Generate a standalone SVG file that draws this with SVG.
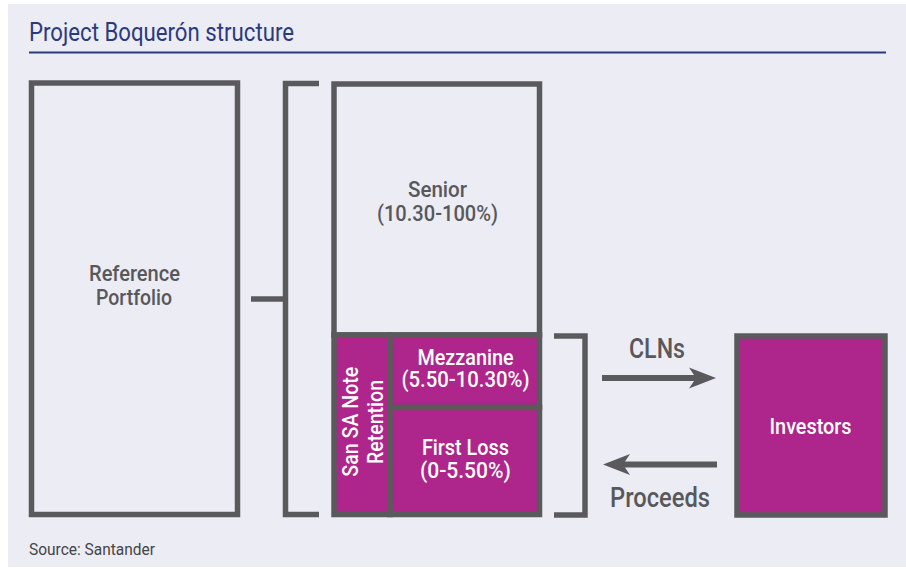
<svg xmlns="http://www.w3.org/2000/svg" width="906" height="569" viewBox="0 0 906 569">
<style>
.bg{fill:#ECECF5}
.box{fill:none;stroke:#5A5A5D;stroke-width:5.5}
.mag{fill:#AE258B;stroke:#5A5A5D;stroke-width:5.5}
.ln{fill:none;stroke:#5A5A5D;stroke-width:5.5}
.arr{fill:none;stroke:#5A5A5D;stroke-width:6}
text{font-family:Roboto,"Liberation Sans",Arial,sans-serif;}
.g{fill:#58585B;font-size:22px;font-weight:500;text-anchor:middle}
.w{fill:#FFFFFF;font-size:22px;font-weight:500;text-anchor:middle}
.big{fill:#58585B;font-size:28px;font-weight:500;text-anchor:middle}
</style>
<defs>
<marker id="ah" markerUnits="userSpaceOnUse" viewBox="0 -11 27 22" markerWidth="27" markerHeight="22" refX="9" refY="0" orient="auto">
<path d="M27,0 L0,-10.5 L7,0 L0,10.5 Z" fill="#5A5A5D"/>
</marker>
</defs>
<rect class="bg" x="8" y="4" width="898" height="563"/>
<g id="title">
<text x="29" y="41" font-size="26" fill="#2B3A7F" textLength="265" lengthAdjust="spacingAndGlyphs">Project Boquerón structure</text>
<line x1="29" y1="52.5" x2="886" y2="52.5" stroke="#2B3A7F" stroke-width="1.8"/>
</g>
<g id="reference-portfolio">
<rect class="box" x="31.5" y="83" width="206" height="431.5"/>
<text class="g" x="134.5" y="280.5" textLength="91" lengthAdjust="spacingAndGlyphs">Reference</text>
<text class="g" x="134" y="305" textLength="76" lengthAdjust="spacingAndGlyphs">Portfolio</text>
</g>
<g id="senior">
<rect class="box" x="334" y="84" width="205.5" height="251"/>
<text class="g" x="437.5" y="197" textLength="59" lengthAdjust="spacingAndGlyphs">Senior</text>
<text class="g" x="437.5" y="221" textLength="121" lengthAdjust="spacingAndGlyphs">(10.30-100%)</text>
</g>
<g id="san-sa-note-retention">
<rect class="mag" x="334" y="335" width="56" height="179.5"/>
<text class="w" transform="translate(358,421.7) rotate(-90)" textLength="110" lengthAdjust="spacingAndGlyphs">San SA Note</text>
<text class="w" transform="translate(383,422) rotate(-90)" textLength="84" lengthAdjust="spacingAndGlyphs">Retention</text>
</g>
<g id="mezzanine">
<rect class="mag" x="390" y="335" width="149.5" height="72.5"/>
<text class="w" x="465.5" y="364.5" textLength="96" lengthAdjust="spacingAndGlyphs">Mezzanine</text>
<text class="w" x="465.5" y="387" textLength="128" lengthAdjust="spacingAndGlyphs">(5.50-10.30%)</text>
</g>
<g id="first-loss">
<rect class="mag" x="390" y="407.5" width="149.5" height="107"/>
<text class="w" x="465.4" y="455" textLength="87" lengthAdjust="spacingAndGlyphs">First Loss</text>
<text class="w" x="465.4" y="478" textLength="91" lengthAdjust="spacingAndGlyphs">(0-5.50%)</text>
</g>
<g id="investors">
<rect class="mag" x="737" y="336" width="148" height="179"/>
<text class="w" x="810.5" y="434" textLength="82" lengthAdjust="spacingAndGlyphs">Investors</text>
</g>
<g id="connectors">
<path class="ln" d="M251,299 H285.5"/>
<path class="ln" d="M319,83.5 H285.5 V514.5 H319"/>
<path class="ln" d="M554,336 H585 V515 H554"/>
<line class="arr" x1="602" y1="378" x2="698" y2="378" marker-end="url(#ah)"/>
<line class="arr" x1="717" y1="464.5" x2="621" y2="464.5" marker-end="url(#ah)"/>
<text class="big" x="657" y="357.7" textLength="56" lengthAdjust="spacingAndGlyphs">CLNs</text>
<text class="big" x="660" y="506.5" textLength="100" lengthAdjust="spacingAndGlyphs">Proceeds</text>
</g>
<g id="source">
<text x="29" y="555" font-size="16" fill="#444446" textLength="126" lengthAdjust="spacingAndGlyphs">Source: Santander</text>
</g>
</svg>
